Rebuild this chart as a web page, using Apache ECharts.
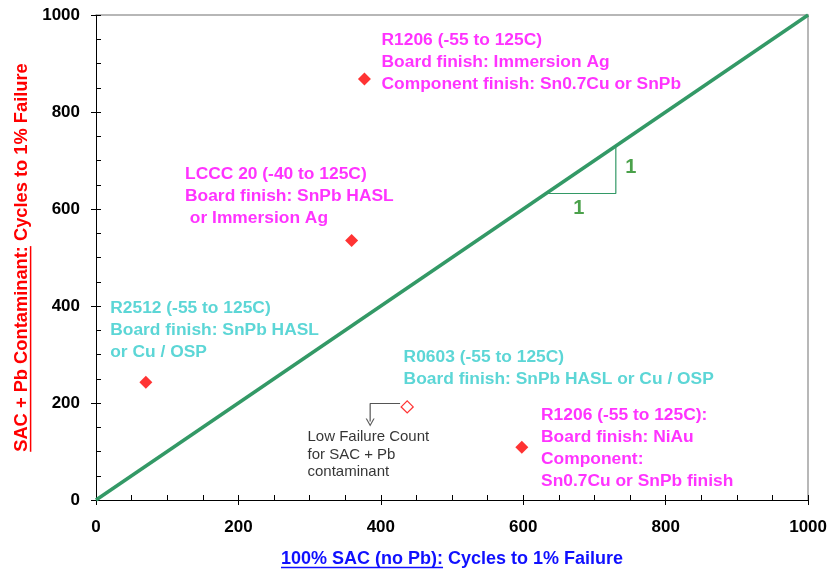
<!DOCTYPE html>
<html><head><meta charset="utf-8">
<script src="https://cdn.jsdelivr.net/npm/echarts@6/dist/echarts.min.js"></script>
<style>html,body{margin:0;padding:0;background:#fff}#c{width:830px;height:571px}</style>
</head><body><div id="c"></div>
<script>
// ---- data ----
const axisMin = 0, axisMax = 1000, axisStep = 200;
const filledPoints = [[377, 868], [359, 535], [70, 243], [598, 109]];
const hollowPoints = [[437, 192]];
const unityLine = [[0, 0], [1000, 1000]];
const slopeTriangle = [[632, 632], [730, 632], [730, 730]];
const arrowPath = [[427, 199], [385, 199], [385, 162]];
const arrowHead = [[385, 160]];
const magentaNotes = [
  { x: 401, y: 970, text: 'R1206 (-55 to 125C)\nBoard finish: Immersion Ag\nComponent finish: Sn0.7Cu or SnPb' },
  { x: 125, y: 695, text: 'LCCC 20 (-40 to 125C)\nBoard finish: SnPb HASL\n or Immersion Ag' },
  { x: 625, y: 198, text: 'R1206 (-55 to 125C):\nBoard finish: NiAu\nComponent:\nSn0.7Cu or SnPb finish' }
];
const cyanNotes = [
  { x: 20, y: 418, text: 'R2512 (-55 to 125C)\nBoard finish: SnPb HASL\nor Cu / OSP' },
  { x: 432, y: 317, text: 'R0603 (-55 to 125C)\nBoard finish: SnPb HASL or Cu / OSP' }
];
const blackNotes = [
  { x: 297, y: 148, text: 'Low Failure Count\nfor SAC + Pb\ncontaminant' }
];
const slopeLabels = [
  { x: 678, y: 602, text: '1' },
  { x: 751, y: 685, text: '1' }
];
const xTitleParts = ['100% SAC (no Pb):', ' Cycles to 1% Failure'];
const yTitleParts = ['SAC + Pb Contaminant:', ' Cycles to 1% Failure'];

// ---- styles ----
const FONT = '"Liberation Sans", Arial, sans-serif';
const GREEN = '#339966', DARKGREEN = '#1e8a1e', MAGENTA = '#ff00ff', CYAN = '#33cccc', RED = '#ff0000', BLUE = '#1010ff';

function mainAxis(pos) {
  return {
    type: 'value', position: pos, min: axisMin, max: axisMax, interval: axisStep,
    axisLine: { show: true, onZero: false, lineStyle: { color: '#000', width: 1 } },
    axisTick: { show: true, inside: true, length: 5, lineStyle: { color: '#000', width: 1 } },
    minorTick: { show: true, splitNumber: 4, length: 5, lineStyle: { color: '#000', width: 1 } },
    splitLine: { show: false }, minorSplitLine: { show: false },
    axisLabel: { color: '#000', fontFamily: FONT, fontWeight: 'bold', fontSize: 17, margin: pos === 'bottom' ? 19 : 16, formatter: v => String(v) }
  };
}
function outerTickAxis(pos) {
  return {
    type: 'value', position: pos, min: axisMin, max: axisMax, interval: axisStep,
    axisLine: { show: false, onZero: false }, axisTick: { show: true, inside: false, length: 5, lineStyle: { color: '#000', width: 1 } },
    axisLabel: { show: false }, splitLine: { show: false }
  };
}
function borderAxis(pos) {
  return {
    type: 'value', position: pos, min: axisMin, max: axisMax, interval: axisStep,
    axisLine: { show: true, onZero: false, lineStyle: { color: '#a0a0a0', width: 1.5 } },
    axisTick: { show: false }, axisLabel: { show: false }, splitLine: { show: false }
  };
}
function noteSeries(list, color, size, weight, lh) {
  return {
    type: 'scatter', xAxisIndex: 0, yAxisIndex: 0, symbolSize: 0, silent: true, z: 5,
    data: list.map(n => ({ value: [n.x, n.y], name: n.text })),
    label: {
      show: true, position: [0, 0], align: 'left', verticalAlign: 'top',
      formatter: p => p.name, color: color, fontFamily: FONT, fontSize: size, fontWeight: weight, lineHeight: lh
    }
  };
}

const chart = echarts.init(document.getElementById('c'), null, { renderer: 'canvas' });
const option = {
  animation: false,
  backgroundColor: '#fff',
  grid: { left: 96, right: 20, top: 15, bottom: 71, containLabel: false },
  xAxis: [mainAxis('bottom'), outerTickAxis('bottom'), borderAxis('top')],
  yAxis: [mainAxis('left'), outerTickAxis('left'), borderAxis('right')],
  series: [
    { type: 'line', data: unityLine, symbol: 'none', lineStyle: { color: GREEN, width: 3.5 }, z: 3 },
    { type: 'line', data: slopeTriangle, symbol: 'none', lineStyle: { color: GREEN, width: 1.2 }, z: 2 },
    { type: 'line', data: arrowPath, symbol: 'none', lineStyle: { color: '#555', width: 1.2 }, z: 2 },
    { type: 'scatter', data: arrowHead, symbol: 'path://M0,0 L5,9 L10,0 L8.6,0 L5,6.5 L1.4,0 Z', symbolSize: [9, 8], itemStyle: { color: '#333' }, z: 2 },
    { type: 'scatter', data: filledPoints, symbol: 'diamond', symbolSize: 13, itemStyle: { color: RED }, z: 4 },
    { type: 'scatter', data: hollowPoints, symbol: 'diamond', symbolSize: 12, itemStyle: { color: '#fff', borderColor: RED, borderWidth: 1.3 }, z: 4 },
    noteSeries(magentaNotes, MAGENTA, 17.4, 'bold', 22),
    noteSeries(cyanNotes, CYAN, 17.4, 'bold', 22),
    noteSeries(blackNotes, '#000', 15, 'normal', 17.5),
    Object.assign(noteSeries(slopeLabels, DARKGREEN, 20, 'bold', 22), {
      label: { show: true, position: [0, 0], align: 'center', verticalAlign: 'middle', formatter: p => p.name, color: DARKGREEN, fontFamily: FONT, fontSize: 20, fontWeight: 'bold' }
    })
  ]
};
chart.setOption(option);

// axis titles with underlined first part
const ctx = document.createElement('canvas').getContext('2d');
function titleGroup(parts, color, fontSize, cx, cy, rotation) {
  const font = 'bold ' + fontSize + 'px ' + FONT;
  ctx.font = font;
  const w1 = ctx.measureText(parts[0]).width;
  const w2 = ctx.measureText(parts[1]).width;
  const W = w1 + w2;
  const x0 = -W / 2;
  const st = t => ({ text: t, font: font, fill: color, align: 'left', verticalAlign: 'middle', textAlign: 'left', textVerticalAlign: 'middle' });
  return {
    type: 'group', x: cx, y: cy, rotation: rotation, silent: true,
    children: [
      { type: 'text', x: x0, y: 0, style: st(parts[0]) },
      { type: 'text', x: x0 + w1, y: 0, style: st(parts[1]) },
      { type: 'line', shape: { x1: x0, y1: fontSize * 0.47, x2: x0 + w1, y2: fontSize * 0.47 }, style: { stroke: color, lineWidth: 1.5 } }
    ]
  };
}
const grid = chart.getModel().getComponent('grid').coordinateSystem.getRect();
chart.setOption({
  graphic: [
    titleGroup(xTitleParts, BLUE, 18, grid.x + grid.width / 2, grid.y + grid.height + 59, 0),
    titleGroup(yTitleParts, RED, 18.3, grid.x - 74, grid.y + grid.height / 2, Math.PI / 2)
  ]
});
</script>
</body></html>
